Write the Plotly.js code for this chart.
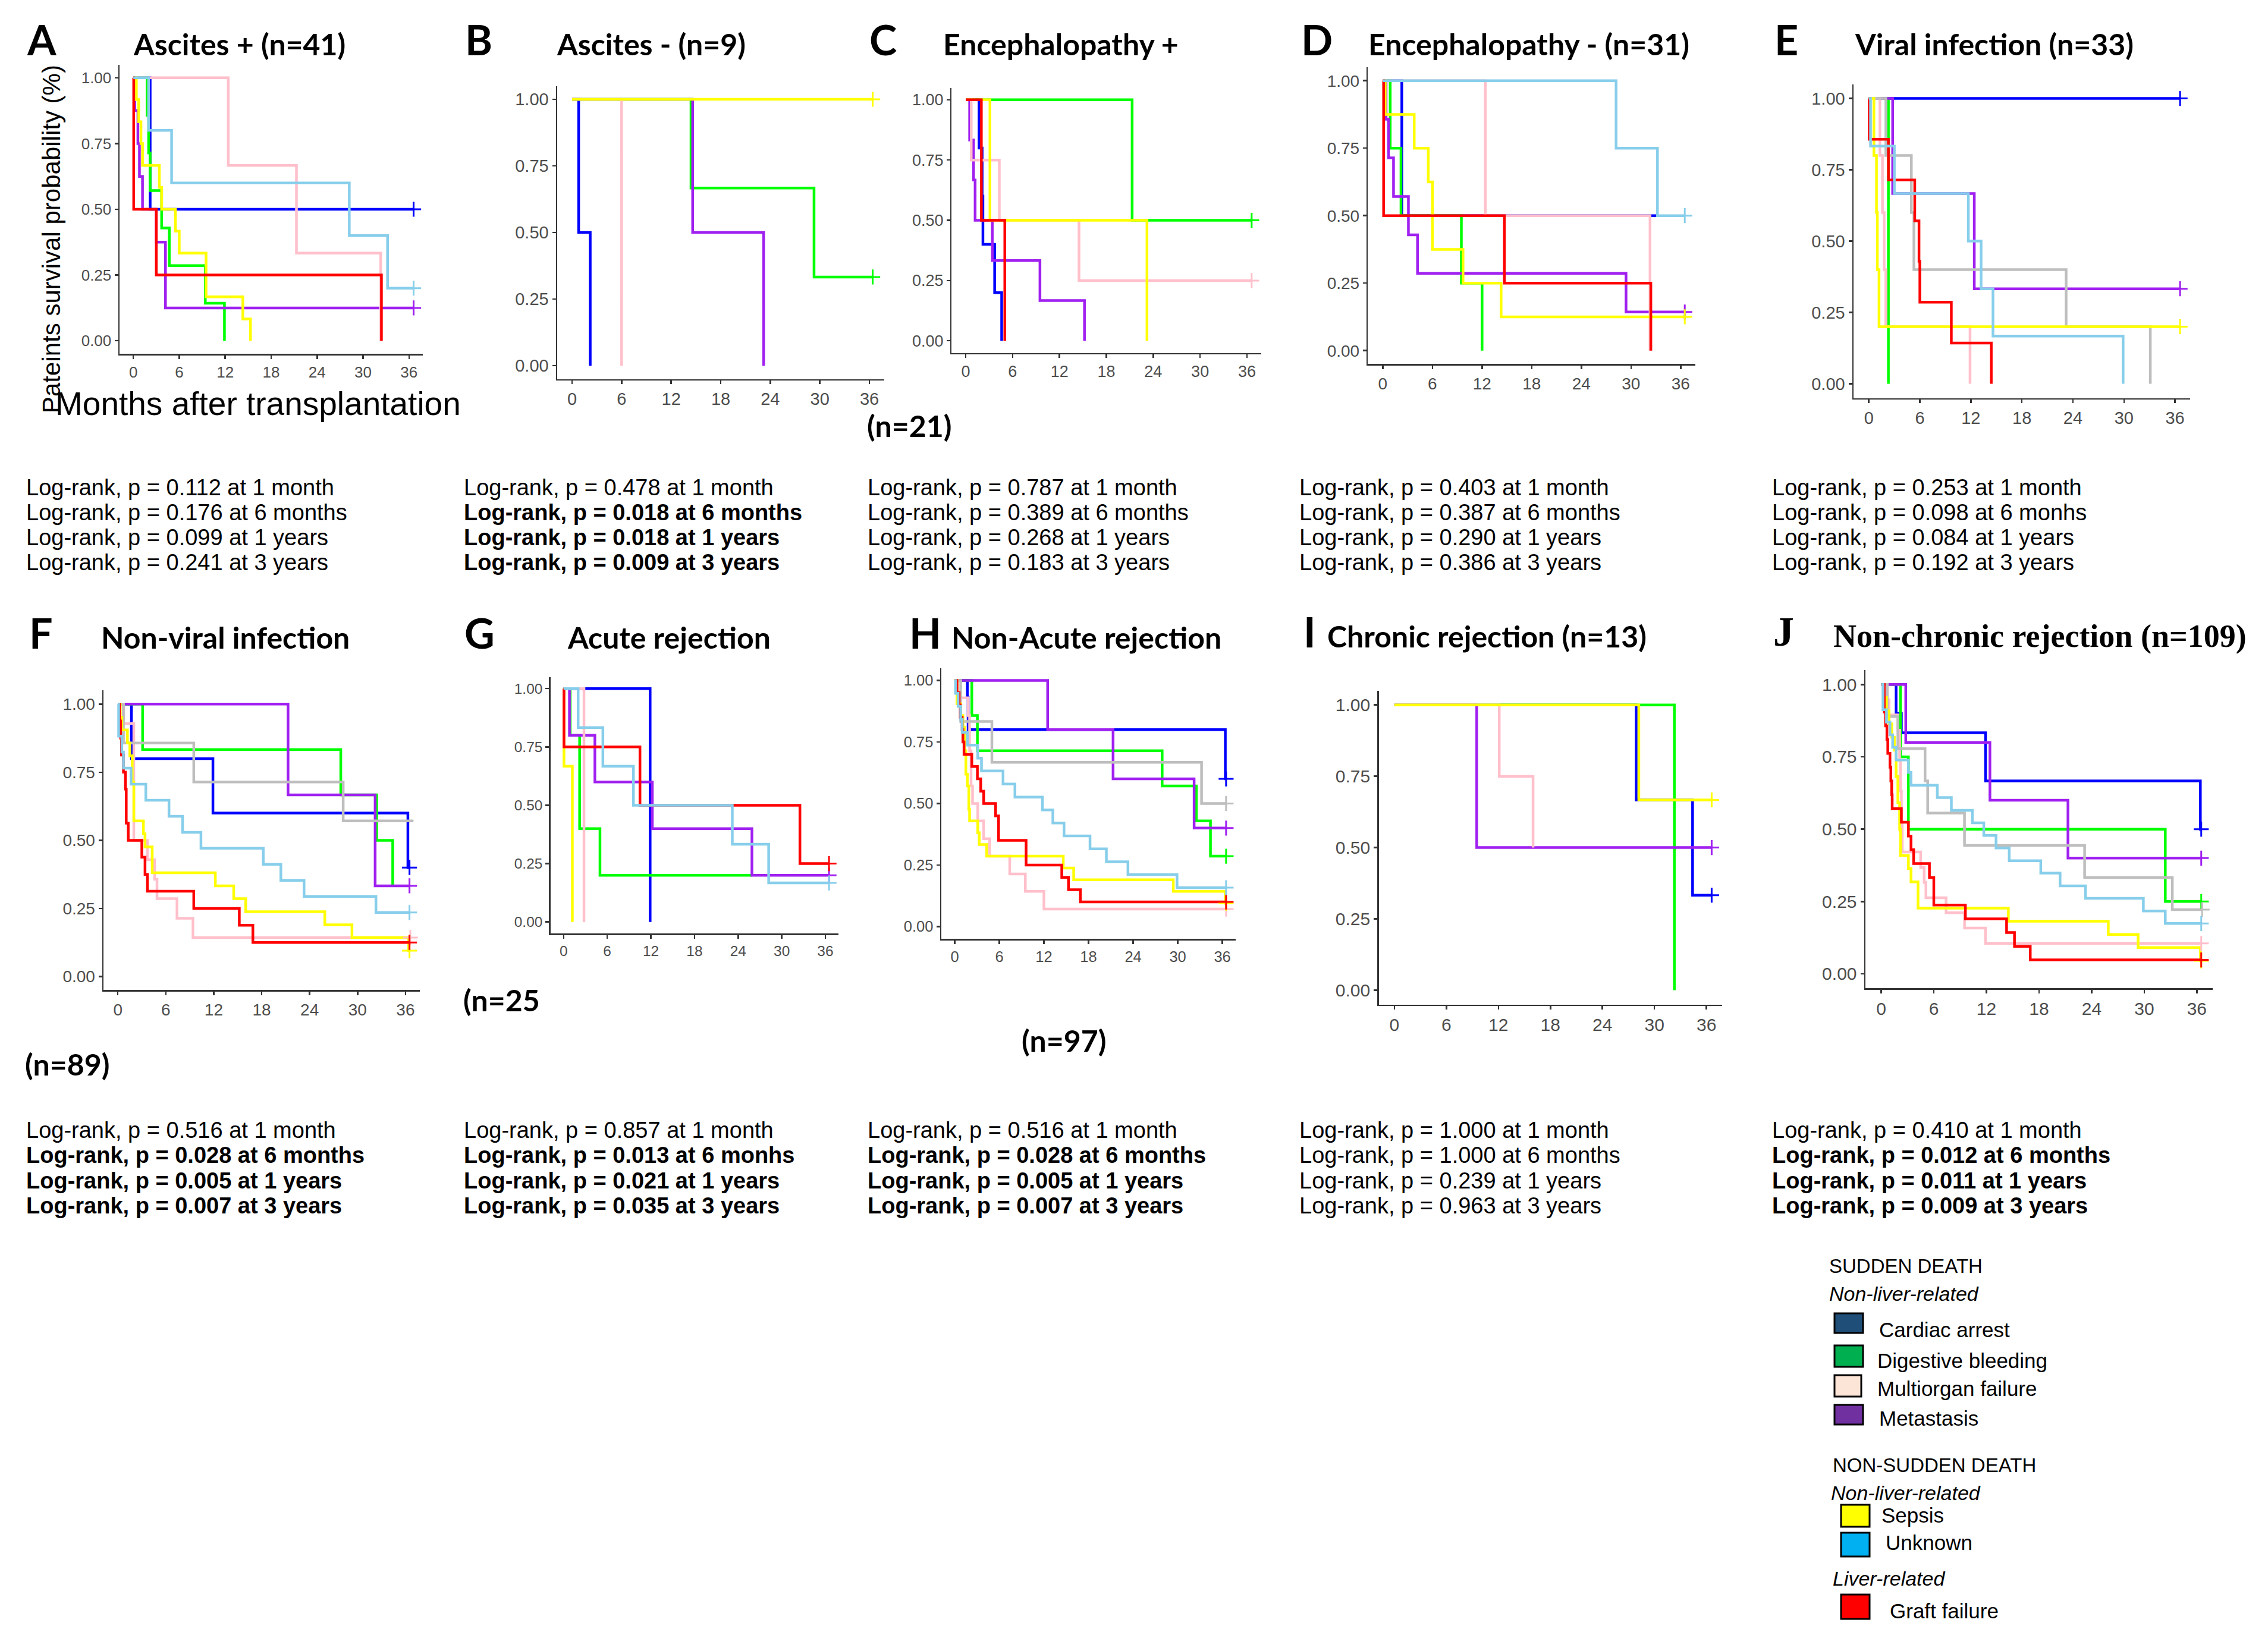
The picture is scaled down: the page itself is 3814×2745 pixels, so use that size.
<!DOCTYPE html>
<html><head><meta charset="utf-8">
<script src="https://cdn.plot.ly/plotly-3.0.1.min.js"></script>
<style>html,body{margin:0;padding:0;background:#fff}#chart{width:3814px;height:2745px}</style>
</head><body><div id="chart"></div>
<script>
// ---------------- DATA (Kaplan-Meier steps: [month, survival]) ----------------
const X_TICKS = [0, 6, 12, 18, 24, 30, 36];
const Y_TICKS = [0, 0.25, 0.5, 0.75, 1];

// A  Ascites + (n=41)
const A_blue = [[0,1],[2.2,0.5],[36.6,0.5]];
const A_green = [[0,1],[1.8,0.857],[2.0,0.714],[2.2,0.571],[3.7,0.429],[4.7,0.286],[9.4,0.143],[11.9,0]];
const A_pink = [[0,1],[12.4,0.667],[21.3,0.333],[32.3,0]];
const A_purple = [[0,1],[0.2,0.875],[0.6,0.75],[0.8,0.625],[1.2,0.5],[3.0,0.375],[4.2,0.125],[36.6,0.125]];
const A_yellow = [[0,1],[0.4,0.917],[0.7,0.833],[1.0,0.75],[1.2,0.667],[3.4,0.583],[3.7,0.5],[5.5,0.417],[6.0,0.333],[9.5,0.167],[14.3,0.083],[15.3,0]];
const A_skyblue = [[0,1],[2.0,0.8],[5.0,0.6],[28.2,0.4],[33.2,0.2],[36.6,0.2]];
const A_red = [[0,1],[0.05,0.5],[3.0,0.25],[32.4,0]];
const A_cens = ["blue","purple","skyblue"];

// B  Ascites - (n=9)
const B_blue = [[0,1],[0.8,0.5],[2.2,0]];
const B_green = [[0,1],[14.4,0.667],[29.3,0.333],[36.4,0.333]];
const B_pink = [[0,1],[6.0,0]];
const B_purple = [[0,1],[14.6,0.5],[23.2,0]];
const B_yellow = [[0,1],[36.4,1]];
const B_cens = ["yellow","green"];

// C  Encephalopathy + (n=21)
const C_blue = [[0,1],[1.7,0.8],[2.1,0.6],[2.2,0.4],[3.7,0.2],[4.6,0]];
const C_green = [[0,1],[21.3,0.5],[36.6,0.5]];
const C_pink = [[0,1],[0.7,0.75],[4.3,0.5],[14.5,0.25],[36.6,0.25]];
const C_purple = [[0,1],[0.5,0.833],[1.0,0.667],[1.2,0.5],[3.4,0.333],[9.5,0.167],[15.2,0]];
const C_yellow = [[0,1],[3.1,0.5],[23.2,0]];
const C_red = [[0,1],[2.0,0.5],[5.0,0]];
const C_cens = ["green","pink"];

// D  Encephalopathy - (n=31)
const D_blue = [[0,1],[2.3,0.5],[33.2,0.5]];
const D_green = [[0,1],[0.9,0.75],[2.2,0.5],[9.5,0.25],[12.0,0]];
const D_pink = [[0,1],[12.4,0.5],[32.3,0]];
const D_purple = [[0,1],[0.4,0.857],[0.7,0.714],[1.3,0.571],[3.1,0.429],[4.2,0.286],[29.4,0.143],[36.5,0.143]];
const D_yellow = [[0,1],[0.3,0.875],[3.8,0.75],[5.5,0.625],[6.0,0.375],[9.7,0.25],[14.3,0.125],[36.5,0.125]];
const D_skyblue = [[0,1],[28.2,0.75],[33.2,0.5],[36.5,0.5]];
const D_red = [[0,1],[0.1,0.5],[14.7,0.25],[32.4,0]];
const D_cens = ["purple","yellow","skyblue"];

// E  Viral infection (n=33)
const E_blue = [[0,1],[36.6,1]];
const E_green = [[0,1],[2.3,0]];
const E_pink = [[0,1],[1.3,0.8],[1.6,0.6],[1.8,0.4],[2.0,0.2],[11.9,0]];
const E_purple = [[0,1],[2.8,0.667],[12.4,0.333],[36.6,0.333]];
const E_yellow = [[0,1],[0.6,0.8],[0.9,0.6],[1.0,0.4],[1.2,0.2],[36.6,0.2]];
const E_skyblue = [[0,1],[0.2,0.833],[3.0,0.667],[11.7,0.5],[13.2,0.333],[14.6,0.167],[29.9,0]];
const E_red = [[0,1],[0.05,0.857],[2.3,0.714],[5.4,0.571],[5.9,0.429],[6.0,0.286],[9.7,0.143],[14.4,0]];
const E_gray = [[0,1],[2.0,0.8],[5.0,0.6],[5.3,0.4],[23.2,0.2],[33.1,0]];
const E_cens = ["blue","purple","yellow"];

// F  Non-viral infection (n=89)
const F_blue = [[0,1],[1.7,0.8],[11.9,0.6],[36.3,0.4],[36.5,0.4]];
const F_green = [[0,1],[3.1,0.833],[27.9,0.667],[32.4,0.5],[34.4,0.333]];
const F_pink = [[0,1],[0.7,0.929],[2.0,0.5],[3.7,0.429],[4.6,0.357],[4.9,0.286],[7.4,0.214],[9.4,0.143],[36.6,0.143]];
const F_purple = [[0,1],[21.3,0.667],[32.2,0.333],[36.5,0.333]];
const F_yellow = [[0,1],[0.3,0.952],[0.5,0.905],[1.2,0.857],[1.5,0.81],[1.8,0.714],[2.0,0.571],[3.2,0.524],[3.4,0.476],[4.3,0.381],[12.2,0.333],[14.5,0.286],[16.0,0.238],[25.9,0.19],[29.3,0.143],[36.4,0.095],[36.5,0.095]];
const F_skyblue = [[0,1],[0.1,0.882],[0.5,0.824],[0.7,0.765],[1.65,0.706],[3.5,0.647],[6.4,0.588],[8.1,0.529],[10.4,0.471],[18.2,0.412],[20.4,0.353],[23.3,0.294],[32.3,0.235],[36.5,0.235]];
const F_red = [[0,1],[0.2,0.938],[0.35,0.875],[0.45,0.813],[0.7,0.75],[0.95,0.688],[1.05,0.563],[1.3,0.5],[3.0,0.438],[3.4,0.375],[3.7,0.313],[9.5,0.25],[15.2,0.188],[16.9,0.125],[36.5,0.125]];
const F_gray = [[0,1],[0.7,0.857],[9.5,0.714],[28.2,0.571],[37.0,0.571]];
const F_cens = ["blue","pink","purple","yellow","skyblue","red"];

// G  Acute rejection (n=25)
const G_blue = [[0,1],[11.9,0]];
const G_green = [[0,1],[0.9,0.8],[2.2,0.4],[5.0,0.2],[25.9,0.2]];
const G_pink = [[0,1],[2.8,0]];
const G_purple = [[0,1],[0.8,0.8],[4.3,0.6],[12.2,0.4],[25.9,0.2],[36.5,0.2]];
const G_yellow = [[0,1],[0.05,0.667],[1.2,0]];
const G_skyblue = [[0,1],[2.0,0.833],[5.4,0.667],[9.6,0.5],[23.2,0.333],[28.2,0.167],[36.5,0.167]];
const G_red = [[0,1],[0.05,0.75],[10.5,0.5],[32.5,0.25],[36.5,0.25]];
const G_cens = ["purple","skyblue","red"];

// H  Non-Acute rejection (n=97)
const H_blue = [[0,1],[1.7,0.933],[1.8,0.8],[36.4,0.6],[36.5,0.6]];
const H_green = [[0,1],[2.3,0.857],[3.05,0.714],[27.9,0.571],[32.5,0.429],[34.4,0.286],[36.5,0.286]];
const H_pink = [[0,1],[0.4,0.929],[1.8,0.857],[2.0,0.714],[2.2,0.571],[2.4,0.5],[3.1,0.429],[3.9,0.357],[4.7,0.286],[7.4,0.214],[9.5,0.143],[12.0,0.071],[36.5,0.071]];
const H_purple = [[0,1],[12.5,0.8],[21.3,0.6],[32.2,0.4],[36.5,0.4]];
const H_yellow = [[0,1],[0.3,0.905],[0.8,0.857],[1.1,0.81],[1.3,0.714],[1.5,0.619],[1.7,0.571],[1.9,0.476],[2.0,0.429],[3.1,0.381],[3.3,0.333],[4.3,0.286],[14.6,0.238],[16.0,0.19],[29.4,0.143],[36.4,0.095],[36.5,0.095]];
const H_skyblue = [[0,1],[0.1,0.947],[0.45,0.895],[0.8,0.842],[1.0,0.789],[1.7,0.737],[3.1,0.684],[3.6,0.632],[6.5,0.579],[8.1,0.526],[11.8,0.474],[13.2,0.421],[14.7,0.368],[18.2,0.316],[20.4,0.263],[23.3,0.211],[29.9,0.158],[36.5,0.158]];
const H_red = [[0,1],[0.3,0.95],[0.6,0.9],[0.75,0.85],[1.0,0.8],[1.1,0.75],[1.25,0.7],[2.3,0.65],[3.05,0.6],[3.5,0.55],[3.9,0.5],[5.5,0.45],[5.9,0.35],[9.6,0.25],[14.4,0.2],[15.3,0.15],[16.9,0.1],[36.5,0.1]];
const H_gray = [[0,1],[0.8,0.833],[5.0,0.667],[33.2,0.5],[36.5,0.5]];
const H_cens = ["blue","green","pink","purple","yellow","skyblue","red","gray"];

// I  Chronic rejection (n=13)
const I_blue = [[0,1],[27.9,0.667],[34.4,0.333],[36.6,0.333]];
const I_green = [[0,1],[32.3,0]];
const I_pink = [[0,1],[12.1,0.75],[16.0,0.5]];
const I_purple = [[0,1],[9.5,0.5],[36.6,0.5]];
const I_yellow = [[0,1],[28.2,0.667],[36.6,0.667]];
const I_cens = ["blue","purple","yellow"];

// J  Non-chronic rejection (n=109)
const J_blue = [[0,1],[1.7,0.9],[2.3,0.833],[11.9,0.667],[36.4,0.5],[36.5,0.5]];
const J_green = [[0,1],[2.2,0.75],[3.1,0.5],[32.4,0.25],[36.5,0.25]];
const J_pink = [[0,1],[0.35,0.947],[0.9,0.895],[1.9,0.842],[2.1,0.737],[2.2,0.632],[2.3,0.526],[2.4,0.421],[4.5,0.368],[4.9,0.316],[5.1,0.263],[7.4,0.211],[9.5,0.158],[11.9,0.105],[36.5,0.105]];
const J_purple = [[0,1],[2.8,0.8],[12.4,0.6],[21.3,0.4],[36.5,0.4]];
const J_yellow = [[0,1],[0.3,0.955],[0.6,0.909],[0.9,0.864],[1.2,0.818],[1.5,0.773],[1.7,0.682],[1.9,0.591],[2.1,0.5],[2.2,0.409],[3.1,0.364],[3.4,0.318],[4.2,0.227],[14.5,0.182],[25.9,0.136],[29.3,0.091],[36.4,0.045],[36.5,0.045]];
const J_skyblue = [[0,1],[0.2,0.913],[0.6,0.87],[1.0,0.826],[1.3,0.783],[1.7,0.739],[3.1,0.696],[3.4,0.652],[6.4,0.609],[8.0,0.565],[10.4,0.522],[11.7,0.478],[13.1,0.435],[14.6,0.391],[18.2,0.348],[20.4,0.304],[23.3,0.261],[29.9,0.217],[32.4,0.174],[36.5,0.174]];
const J_red = [[0,1],[0.35,0.905],[0.5,0.857],[0.65,0.81],[0.75,0.762],[1.0,0.714],[1.1,0.667],[1.2,0.619],[1.25,0.571],[2.3,0.524],[3.1,0.476],[3.4,0.429],[3.7,0.381],[5.5,0.333],[6.0,0.238],[9.6,0.19],[14.3,0.143],[15.2,0.095],[17.0,0.048],[36.5,0.048]];
const J_gray = [[0,1],[0.7,0.889],[1.9,0.778],[5.0,0.667],[5.3,0.556],[9.5,0.444],[23.2,0.333],[33.2,0.222],[36.6,0.222]];
const J_cens = ["blue","green","pink","purple","yellow","skyblue","red","gray"];

// Titles
const LETTERS = ["A","B","C","D","E","F","G","H","I","J"];
const TITLES = ["Ascites + (n=41)","Ascites - (n=9)","Encephalopathy +","Encephalopathy - (n=31)","Viral infection (n=33)",
                "Non-viral infection","Acute rejection","Non-Acute rejection","Chronic rejection (n=13)","Non-chronic rejection (n=109)"];
const EXTRA_N = ["(n=21)","(n=89)","(n=25","(n=97)"];

// Log-rank texts
const A_logrank = ["Log-rank, p = 0.112 at 1 month","Log-rank, p = 0.176 at 6 months","Log-rank, p = 0.099 at 1 years","Log-rank, p = 0.241 at 3 years"];
const B_logrank = ["Log-rank, p = 0.478 at 1 month","Log-rank, p = 0.018 at 6 months","Log-rank, p = 0.018 at 1 years","Log-rank, p = 0.009 at 3 years"];
const C_logrank = ["Log-rank, p = 0.787 at 1 month","Log-rank, p = 0.389 at 6 months","Log-rank, p = 0.268 at 1 years","Log-rank, p = 0.183 at 3 years"];
const D_logrank = ["Log-rank, p = 0.403 at 1 month","Log-rank, p = 0.387 at 6 months","Log-rank, p = 0.290 at 1 years","Log-rank, p = 0.386 at 3 years"];
const E_logrank = ["Log-rank, p = 0.253 at 1 month","Log-rank, p = 0.098 at 6 monhs","Log-rank, p = 0.084 at 1 years","Log-rank, p = 0.192 at 3 years"];
const F_logrank = ["Log-rank, p = 0.516 at 1 month","Log-rank, p = 0.028 at 6 months","Log-rank, p = 0.005 at 1 years","Log-rank, p = 0.007 at 3 years"];
const G_logrank = ["Log-rank, p = 0.857 at 1 month","Log-rank, p = 0.013 at 6 monhs","Log-rank, p = 0.021 at 1 years","Log-rank, p = 0.035 at 3 years"];
const H_logrank = ["Log-rank, p = 0.516 at 1 month","Log-rank, p = 0.028 at 6 months","Log-rank, p = 0.005 at 1 years","Log-rank, p = 0.007 at 3 years"];
const I_logrank = ["Log-rank, p = 1.000 at 1 month","Log-rank, p = 1.000 at 6 months","Log-rank, p = 0.239 at 1 years","Log-rank, p = 0.963 at 3 years"];
const J_logrank = ["Log-rank, p = 0.410 at 1 month","Log-rank, p = 0.012 at 6 months","Log-rank, p = 0.011 at 1 years","Log-rank, p = 0.009 at 3 years"];
const BOLD_LINES = {A:[0,0,0,0],B:[0,1,1,1],C:[0,0,0,0],D:[0,0,0,0],E:[0,0,0,0],F:[0,1,1,1],G:[0,1,1,1],H:[0,1,1,1],I:[0,0,0,0],J:[0,1,1,1]};

// Legend
const LEGEND_GROUPS = ["SUDDEN DEATH","NON-SUDDEN DEATH"];
const LEGEND_SUB = ["Non-liver-related","Non-liver-related","Liver-related"];
const LEGEND_ITEMS = ["Cardiac arrest","Digestive bleeding","Multiorgan failure","Metastasis","Sepsis","Unknown","Graft failure"];
const LEGEND_COLORS = ["#1F4E79","#00B050","#FCE4D6","#7030A0","#FFFF00","#00B0F0","#FF0000"];

// ---------------- LAYOUT / STYLE ----------------
const W = 3814, H = 2745;
const PX = v => v / W, PY = v => 1 - v / H;
const COLORS = {blue:'#0000FF', green:'#00FF00', pink:'#FFC0CB', purple:'#A020F0', yellow:'#FFFF00', skyblue:'#87CEEB', red:'#FF0000', gray:'#BEBEBE'};
const DRAW_ORDER = ['blue','green','purple','pink','gray','yellow','red','skyblue'];
const SANS = 'Liberation Sans, Arial, sans-serif';
const TITLE_FONT = 'Lato, Open Sans, sans-serif';
const SERIF = 'Liberation Serif, Times New Roman, serif';

const PANELS = [
 {id:'A', curves:{blue:A_blue,green:A_green,pink:A_pink,purple:A_purple,yellow:A_yellow,skyblue:A_skyblue,red:A_red}, cens:A_cens, lr:A_logrank, box:[201,711,108.7,595.3], tf:26, lx:43, tx:222, ty:74, col:42, row:0},
 {id:'B', curves:{blue:B_blue,green:B_green,pink:B_pink,purple:B_purple,yellow:B_yellow}, cens:B_cens, lr:B_logrank, box:[937,1487,144.6,637.6], tf:29, lx:780, tx:934, ty:74, col:778, row:0},
 {id:'C', curves:{blue:C_blue,green:C_green,pink:C_pink,purple:C_purple,yellow:C_yellow,red:C_red}, cens:C_cens, lr:C_logrank, box:[1600.4,2120.6,147.6,593.5], tf:27, lx:1460, tx:1584, ty:74, col:1457, row:0},
 {id:'D', curves:{blue:D_blue,green:D_green,pink:D_pink,purple:D_purple,yellow:D_yellow,skyblue:D_skyblue,red:D_red}, cens:D_cens, lr:D_logrank, box:[2300.3,2851.3,113,612.4], tf:28, lx:2186, tx:2299, ty:74, col:2183, row:0},
 {id:'E', curves:{blue:E_blue,green:E_green,pink:E_pink,purple:E_purple,yellow:E_yellow,skyblue:E_skyblue,red:E_red,gray:E_gray}, cens:E_cens, lr:E_logrank, box:[3117,3683.3,141.6,669.5], tf:29, lx:2982, tx:3117, ty:74, col:2978, row:0},
 {id:'F', curves:{blue:F_blue,green:F_green,pink:F_pink,purple:F_purple,yellow:F_yellow,skyblue:F_skyblue,red:F_red,gray:F_gray}, cens:F_cens, lr:F_logrank, box:[174,706.1,1161.4,1665.4], tf:28, lx:47, tx:168, ty:1072, col:42, row:1},
 {id:'G', curves:{blue:G_blue,green:G_green,pink:G_pink,purple:G_purple,yellow:G_yellow,skyblue:G_skyblue,red:G_red}, cens:G_cens, lr:G_logrank, box:[925.8,1410,1138.5,1570.3], tf:24.5, lx:779, tx:952, ty:1072, col:778, row:1},
 {id:'H', curves:{blue:H_blue,green:H_green,pink:H_pink,purple:H_purple,yellow:H_yellow,skyblue:H_skyblue,red:H_red,gray:H_gray}, cens:H_cens, lr:H_logrank, box:[1583,2078.1,1123.7,1579.2], tf:25.5, lx:1527, tx:1598, ty:1072, col:1457, row:1},
 {id:'I', curves:{blue:I_blue,green:I_green,pink:I_pink,purple:I_purple,yellow:I_yellow}, cens:I_cens, lr:I_logrank, box:[2318.6,2895.9,1161.7,1689.5], tf:30, lx:2190, tx:2230, ty:1070, col:2183, row:1},
 {id:'J', curves:{blue:J_blue,green:J_green,pink:J_pink,purple:J_purple,yellow:J_yellow,skyblue:J_skyblue,red:J_red,gray:J_gray}, cens:J_cens, lr:J_logrank, box:[3137,3720.9,1127,1662.3], tf:30, lx:2980, tx:3081, ty:1070, col:2978, row:1, serif:true}
];
const LR_ROWS = [[820,862,904,946],[1901,1943,1986,2028]];

const traces = [];
const layout = {
  width: W, height: H, margin:{l:0,r:0,t:0,b:0}, showlegend:false,
  paper_bgcolor:'#ffffff', plot_bgcolor:'#ffffff', annotations:[], shapes:[]
};

PANELS.forEach((p, i) => {
  const n = i + 1, sfx = n === 1 ? '' : String(n);
  const axBase = {
    showline:true, linecolor:'#333333', linewidth:2.5, ticks:'outside', ticklen:6, tickwidth:2.5, tickcolor:'#333333',
    showgrid:false, zeroline:false, fixedrange:true, tickfont:{family:SANS, size:p.tf, color:'#4D4D4D'}
  };
  layout['xaxis'+sfx] = Object.assign({}, axBase, {domain:[PX(p.box[0]), PX(p.box[1])], range:[-1.8, 37.8], tickvals:X_TICKS, ticktext:X_TICKS.map(String), anchor:'y'+sfx});
  layout['yaxis'+sfx] = Object.assign({}, axBase, {domain:[PY(p.box[3]), PY(p.box[2])], range:[-0.05, 1.05], tickvals:Y_TICKS, tickformat:'.2f', anchor:'x'+sfx});
  DRAW_ORDER.forEach(c => {
    const pts = p.curves[c];
    if (!pts) return;
    traces.push({type:'scatter', mode:'lines', x:pts.map(d=>d[0]), y:pts.map(d=>d[1]), xaxis:'x'+sfx, yaxis:'y'+sfx,
      line:{shape:'hv', color:COLORS[c], width:4.5}, hoverinfo:'skip', cliponaxis:false});
  });
  DRAW_ORDER.forEach(c => {
    const pts = p.curves[c];
    if (!pts || p.cens.indexOf(c) < 0) return;
    const last = pts[pts.length-1];
    traces.push({type:'scatter', mode:'markers', x:[last[0]], y:[last[1]], xaxis:'x'+sfx, yaxis:'y'+sfx, cliponaxis:false,
      marker:{symbol:'cross-thin', size:18, color:COLORS[c], line:{width:3, color:COLORS[c]}}, hoverinfo:'skip'});
  });
  // letter + title
  layout.annotations.push({text:'<b>'+LETTERS[i]+'</b>', x:PX(p.lx), y:PY(p.ty-8), xref:'paper', yref:'paper', xanchor:'left', yanchor:'middle', showarrow:false,
    font:{family:p.serif?SERIF:TITLE_FONT, size:70, color:'#000'}});
  layout.annotations.push({text:'<b>'+TITLES[i]+'</b>', x:PX(p.tx), y:PY(p.ty), xref:'paper', yref:'paper', xanchor:'left', yanchor:'middle', showarrow:false,
    font:{family:p.serif?SERIF:TITLE_FONT, size:p.serif?54:50, color:'#000'}});
  // log-rank
  p.lr.forEach((t, k) => {
    const b = BOLD_LINES[p.id][k];
    layout.annotations.push({text: b ? '<b>'+t+'</b>' : t, x:PX(p.col), y:PY(LR_ROWS[p.row][k]), xref:'paper', yref:'paper', xanchor:'left', yanchor:'middle', showarrow:false,
      font:{family:SANS, size:38, color:'#000'}});
  });
});

// extra (n=..) labels
const EXTRA_POS = [[1456,716],[40,1790],[777,1682],[1716,1750]];
EXTRA_N.forEach((t, k) => {
  layout.annotations.push({text:'<b>'+t+'</b>', x:PX(EXTRA_POS[k][0]), y:PY(EXTRA_POS[k][1]), xref:'paper', yref:'paper', xanchor:'left', yanchor:'middle', showarrow:false,
    font:{family:TITLE_FONT, size:50, color:'#000'}});
});

// axis titles of panel A
layout.annotations.push({text:'Pateints survival probability (%)', x:PX(86), y:PY(402), xref:'paper', yref:'paper', xanchor:'center', yanchor:'middle', textangle:-90, showarrow:false,
  font:{family:SANS, size:42, color:'#000'}});
layout.annotations.push({text:'Months after transplantation', x:PX(91), y:PY(679), xref:'paper', yref:'paper', xanchor:'left', yanchor:'middle', showarrow:false,
  font:{family:SANS, size:55, color:'#000'}});

// legend
const LEG_HEAD = [[LEGEND_GROUPS[0],3074,2129],[LEGEND_GROUPS[1],3080,2464]];
LEG_HEAD.forEach(h => layout.annotations.push({text:h[0], x:PX(h[1]), y:PY(h[2]), xref:'paper', yref:'paper', xanchor:'left', yanchor:'middle', showarrow:false, font:{family:SANS, size:33, color:'#000'}}));
const LEG_SUBPOS = [[3074,2176],[3077,2511],[3080,2655]];
LEGEND_SUB.forEach((t,k) => layout.annotations.push({text:'<i>'+t+'</i>', x:PX(LEG_SUBPOS[k][0]), y:PY(LEG_SUBPOS[k][1]), xref:'paper', yref:'paper', xanchor:'left', yanchor:'middle', showarrow:false, font:{family:SANS, size:34, color:'#000'}}));
const LEG_BOX = [[3085,3133,2209,2242],[3085,3133,2263,2299],[3085,3130,2313,2349],[3085,3133,2363,2396],[3096,3144,2531,2568],[3096,3144,2578,2618],[3096,3144,2682,2723]];
const LEG_LABEL = [[3158,2236],[3155,2288],[3155,2335],[3158,2385],[3162,2548],[3169,2594],[3176,2709]];
LEGEND_ITEMS.forEach((t,k) => {
  const b = LEG_BOX[k];
  layout.shapes.push({type:'rect', xref:'paper', yref:'paper', x0:PX(b[0]), x1:PX(b[1]), y0:PY(b[3]), y1:PY(b[2]), fillcolor:LEGEND_COLORS[k], line:{color:'#000', width:3}});
  layout.annotations.push({text:t, x:PX(LEG_LABEL[k][0]), y:PY(LEG_LABEL[k][1]), xref:'paper', yref:'paper', xanchor:'left', yanchor:'middle', showarrow:false, font:{family:SANS, size:35, color:'#000'}});
});

Plotly.newPlot('chart', traces, layout, {staticPlot:true, displayModeBar:false});
</script></body></html>
